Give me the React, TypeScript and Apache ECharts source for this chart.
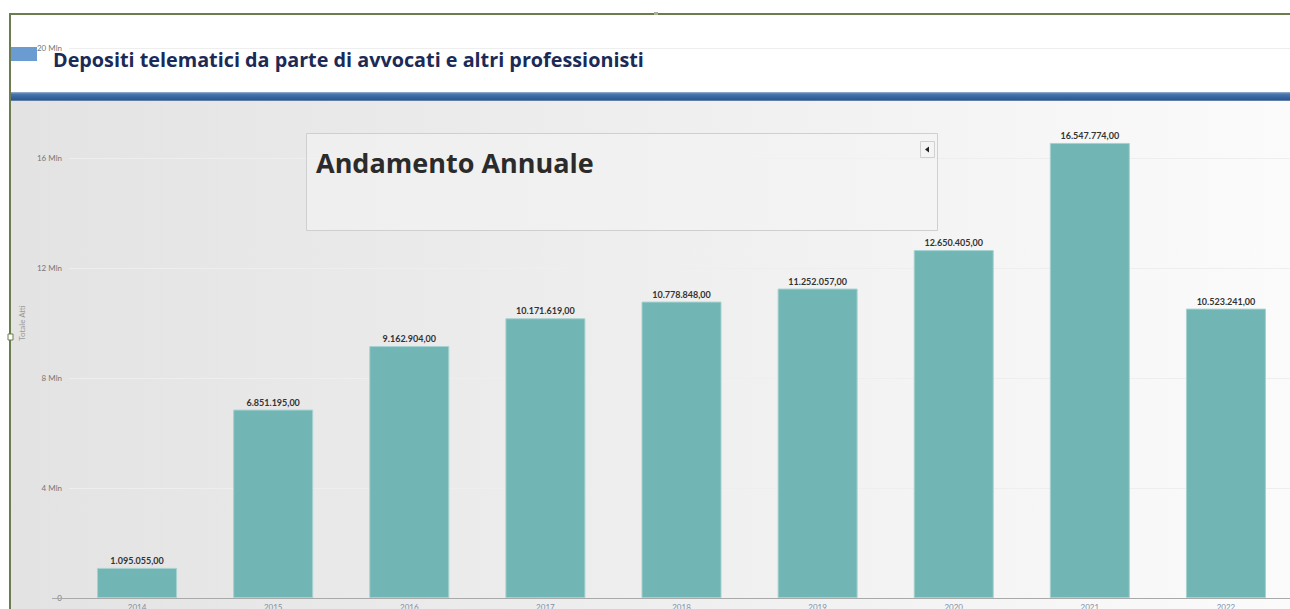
import React, { useEffect, useRef } from "react";
import * as echarts from "echarts";

const years = ["2014", "2015", "2016", "2017", "2018", "2019", "2020", "2021", "2022"];
const totals = [1095055, 6851195, 9162904, 10171619, 10778848, 11252057, 12650405, 16547774, 10523241];
const yMin = 0;
const yMax = 20000000;
const yInterval = 4000000;

const pageTitle = "Depositi telematici da parte di avvocati e altri professionisti";
const boxTitle = "Andamento Annuale";
const yName = "Totale Atti";

function fmtIt(n: number): string {
  const s = Math.round(n).toString();
  let out = "";
  for (let i = 0; i < s.length; i++) {
    const rem = s.length - i;
    out += s[i];
    if (rem > 1 && rem % 3 === 1) out += ".";
  }
  return out + ",00";
}

export default function App() {
  const ref = useRef<HTMLDivElement>(null);
  useEffect(() => {
    if (!ref.current) return;
    const chart = echarts.init(ref.current, undefined, { renderer: "svg" });
    chart.setOption({
      animation: false,
      backgroundColor: "transparent",
      grid: { left: 69, right: -4, top: 48, bottom: 11, containLabel: false, outerBoundsMode: "none" },
      xAxis: {
        type: "category",
        data: years,
        axisLine: { lineStyle: { color: "#a9a9a9", width: 1 } },
        axisTick: { show: false },
        axisLabel: { color: "#7f8ea6", fontSize: 8, margin: 5, fontFamily: "Lato" },
      },
      yAxis: {
        type: "value",
        min: yMin,
        max: yMax,
        interval: yInterval,
        name: yName,
        nameLocation: "middle",
        nameGap: 42,
        nameTextStyle: { color: "#9a9a9a", fontSize: 8, fontFamily: "Lato" },
        axisLine: { show: false },
        axisTick: { show: false },
        axisLabel: {
          color: "#777",
          fontSize: 8,
          margin: 7,
          fontFamily: "Lato",
          formatter: (v: number) => (v === 0 ? "0" : v / 1000000 + " Mln"),
        },
        splitLine: { lineStyle: { color: "#eeeeee", width: 1 } },
      },
      series: [
        {
          type: "bar",
          data: totals,
          barWidth: 80,
          itemStyle: { color: "#71b5b4", borderColor: "#a5d2d0", borderWidth: 1 },
          label: {
            show: true,
            position: "top",
            distance: 3,
            color: "#333",
            fontSize: 9,
            fontWeight: "bold",
            fontFamily: "Lato",
            formatter: (p: any) => fmtIt(p.value),
          },
        },
      ],
      graphic: [
        { type: "line", z: 10, shape: { x1: 10, y1: 14, x2: 1290, y2: 14 }, style: { stroke: "#6b7d4f", lineWidth: 2 } },
        { type: "line", z: 10, shape: { x1: 10, y1: 13, x2: 10, y2: 609 }, style: { stroke: "#6b7d4f", lineWidth: 2 } },
        { type: "rect", z: 10, shape: { x: 654, y: 12, width: 4, height: 3 }, style: { fill: "#a7b396" } },
        { type: "rect", z: 10, shape: { x: 8, y: 334, width: 5, height: 6 }, style: { fill: "#fff", stroke: "#6b7d4f", lineWidth: 1 } },
        { type: "rect", z: 10, shape: { x: 11, y: 47, width: 26, height: 14 }, style: { fill: "#6a9bd1" } },
        {
          type: "text",
          z: 10,
          x: 53,
          y: 59,
          style: {
            text: pageTitle,
            fill: "#1b2a57",
            font: "bold 19.8px 'Open Sans'",
            textVerticalAlign: "middle",
          },
        },
        { type: "line", z: 10, shape: { x1: 52, y1: 598.5, x2: 70, y2: 598.5 }, style: { stroke: "#a9a9a9", lineWidth: 1 } },
        {
          type: "rect",
          z: 9,
          shape: { x: 306.5, y: 133.5, width: 631, height: 97 },
          style: { fill: "rgba(244,244,244,0.55)", stroke: "#cfcfcf", lineWidth: 1 },
        },
        {
          type: "text",
          z: 10,
          x: 316,
          y: 162,
          style: {
            text: boxTitle,
            fill: "#2b2b2b",
            font: "bold 27px 'Open Sans'",
            textVerticalAlign: "middle",
          },
        },
        {
          type: "rect",
          z: 10,
          shape: { x: 920.5, y: 141.5, width: 14, height: 16 },
          style: { fill: "#f4f4f4", stroke: "#d0d0d0", lineWidth: 1 },
        },
        {
          type: "polygon",
          z: 11,
          shape: { points: [[925, 149.5], [929, 146.5], [929, 152.5]] },
          style: { fill: "#222" },
        },
      ],
    });
    return () => chart.dispose();
  }, []);

  return (
    <div style={{ position: "fixed", left: 0, top: 0, width: 1290, height: 609, overflow: "hidden", background: "#fff" }}>
      <div style={{ position: "absolute", left: 0, top: 0, width: 1290, height: 92, background: "#ffffff" }} />
      <div
        style={{
          position: "absolute",
          left: 10,
          top: 92,
          width: 1280,
          height: 9,
          background: "linear-gradient(to bottom, #9cb4d2 0px, #4a78ac 2px, #3865a0 5px, #2e5890 8px, #8ea6c2 9px)",
        }}
      />
      <div
        style={{
          position: "absolute",
          left: 10,
          top: 101,
          width: 1280,
          height: 508,
          background: "linear-gradient(to right, #e3e3e3 0%, #ebebeb 35%, #f2f2f2 65%, #fbfbfb 100%)",
        }}
      />
      <div ref={ref} style={{ position: "absolute", left: 0, top: 0, width: 1290, height: 609 }} />
    </div>
  );
}
